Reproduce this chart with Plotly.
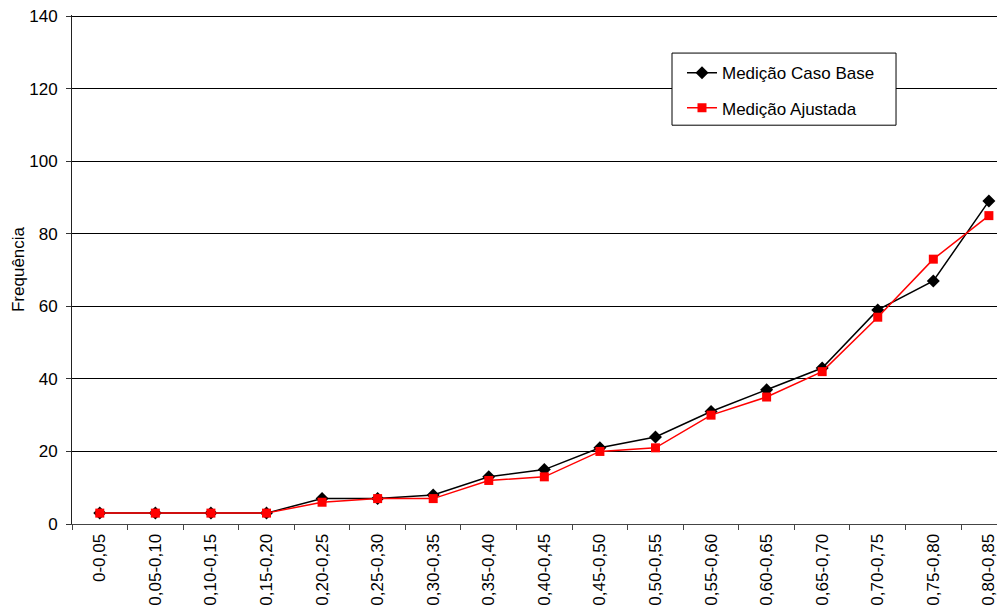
import plotly.graph_objects as go

faixas = ["0-0,05", "0,05-0,10", "0,10-0,15", "0,15-0,20", "0,20-0,25", "0,25-0,30",
          "0,30-0,35", "0,35-0,40", "0,40-0,45", "0,45-0,50", "0,50-0,55", "0,55-0,60",
          "0,60-0,65", "0,65-0,70", "0,70-0,75", "0,75-0,80", "0,80-0,85"]
caso_base = [3, 3, 3, 3, 7, 7, 8, 13, 15, 21, 24, 31, 37, 43, 59, 67, 89]
ajustada = [3, 3, 3, 3, 6, 7, 7, 12, 13, 20, 21, 30, 35, 42, 57, 73, 85]

fonte = "Liberation Sans, Arial, sans-serif"

fig = go.Figure()
fig.add_trace(go.Scatter(x=faixas, y=caso_base, name="Medição Caso Base",
                         mode="lines+markers", legendgroup="a",
                         line=dict(color="black", width=1.5),
                         marker=dict(symbol="diamond", size=10, color="black")))
fig.add_trace(go.Scatter(x=faixas, y=ajustada, name="Medição Ajustada",
                         mode="lines+markers", legendgroup="b",
                         line=dict(color="red", width=1.5),
                         marker=dict(symbol="square", size=9, color="red")))

# caixa da legenda (borda desenhada à parte para controlar o tamanho)
fig.add_shape(type="rect", xref="paper", yref="paper",
              x0=0.6431, x1=0.8832, y0=0.7835, y1=0.9252,
              line=dict(color="black", width=1), fillcolor="white", layer="above")

# a página tem margem de 8px no body: figura 997x597
# (topo do eixo um pouco acima de 140 para o plotly desenhar essa linha de grade)
fig.update_layout(
    width=997, height=597,
    margin=dict(l=64, r=0, t=7, b=81),
    plot_bgcolor="white", paper_bgcolor="white",
    font=dict(family=fonte, size=17, color="black"),
    legend=dict(x=0.6538, y=0.921, xanchor="left", yanchor="top",
                bgcolor="rgba(0,0,0,0)", borderwidth=0,
                font=dict(size=17), tracegroupgap=10, traceorder="grouped"),
    showlegend=True,
)
fig.update_xaxes(type="category", range=[-0.5, 16.29], automargin=False,
                 tickangle=-90, tickson="boundaries", ticks="outside", ticklen=5,
                 tickcolor="#444", showline=True, linecolor="#444", linewidth=1,
                 showgrid=False, ticklabelstandoff=2)
fig.update_yaxes(range=[0, 140.3], dtick=20, automargin=False,
                 ticks="outside", ticklen=5, tickcolor="#333",
                 ticklabeloverflow="allow", ticklabelstandoff=5,
                 showline=True, linecolor="#222", linewidth=1,
                 showgrid=True, gridcolor="black", gridwidth=1, zeroline=False,
                 title=dict(text="Frequência", font=dict(size=17), standoff=0))

fig.write_html("out.html")
